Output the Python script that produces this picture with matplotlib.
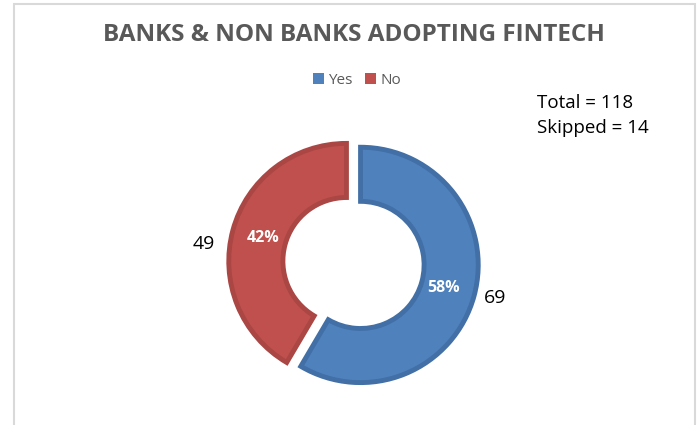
import matplotlib.pyplot as plt
from matplotlib.patches import Rectangle, Patch

# survey answers
labels = ["Yes", "No"]
counts = [69, 49]
total = 118
skipped = 14

fill_colors = ["#4F81BD", "#C0504D"]
edge_colors = ["#416FA6", "#AA4643"]

plt.rcParams["font.family"] = ["Open Sans", "DejaVu Sans"]

fig = plt.figure(figsize=(7, 4.25), dpi=100)

# light chart-area frame (open at the bottom)
fig.add_artist(Rectangle((13.5 / 700, -0.05), (695 - 13.5) / 700, 1.05 - 3.5 / 425,
                         transform=fig.transFigure, fill=False,
                         edgecolor="#D9D9D9", linewidth=1.5))

# donut axes
size = 306
ax = fig.add_axes([(353.5 - size / 2) / 700, (162 - size / 2) / 425, size / 700, size / 425])
wedges, texts, autotexts = ax.pie(
    counts, labels=[str(c) for c in counts], colors=fill_colors,
    startangle=90, counterclock=False, explode=[0.062, 0.062],
    autopct="%1.0f%%", pctdistance=0.73, labeldistance=1.2,
    wedgeprops=dict(width=0.46, linewidth=3.5),
    textprops=dict(fontsize=14, color="black"))
for w, ec in zip(wedges, edge_colors):
    w.set_edgecolor(ec)
for t in autotexts:
    t.set_color("white")
    t.set_fontweight("bold")
    t.set_fontsize(11.5)
for t in texts:
    t.set_ha("center")
    t.set_va("center")
# nudge the outside value labels
texts[0].set_position((1.20, -0.30))
texts[1].set_position((-1.27, 0.16))
ax.set_xlim(-1.3, 1.3)
ax.set_ylim(-1.3, 1.3)
ax.set_aspect("equal")
ax.axis("off")

fig.text(354 / 700, 1 - 35 / 425, "BANKS & NON BANKS ADOPTING FINTECH",
         ha="center", va="center", fontsize=17.5, fontweight="bold", color="#595959")

handles = [Patch(facecolor=c, edgecolor="none") for c in fill_colors]
fig.legend(handles, labels, loc="center", bbox_to_anchor=(357 / 700, 1 - 80 / 425),
           ncol=2, frameon=False, fontsize=11, handlelength=0.7, handleheight=0.7,
           handletextpad=0.3, columnspacing=0.8, labelcolor="#595959")

fig.text(537 / 700, 1 - 103 / 425, f"Total = {total}", ha="left", va="center", fontsize=13.5)
fig.text(537 / 700, 1 - 128 / 425, f"Skipped = {skipped}", ha="left", va="center", fontsize=13.5)

fig.savefig("out.png", dpi=100)
